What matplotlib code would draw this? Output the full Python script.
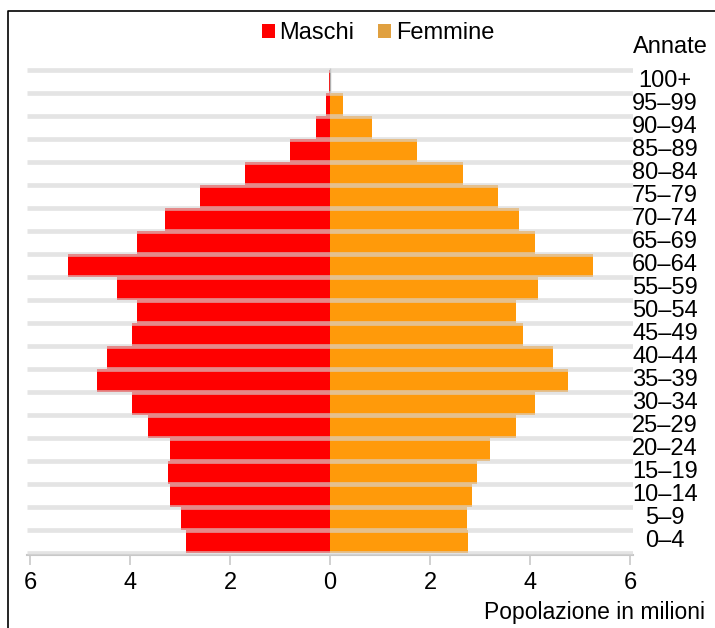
import numpy as np
import matplotlib
matplotlib.use("Agg")
import matplotlib.pyplot as plt
from matplotlib.patches import Patch
from matplotlib.lines import Line2D
import matplotlib.transforms as mtransforms

plt.rcParams['font.family'] = ['Liberation Sans Narrow', 'Liberation Sans', 'DejaVu Sans']

# age classes, bottom to top
ages = ["0–4", "5–9", "10–14", "15–19", "20–24", "25–29", "30–34", "35–39",
        "40–44", "45–49", "50–54", "55–59", "60–64", "65–69", "70–74",
        "75–79", "80–84", "85–89", "90–94", "95–99", "100+"]
# population in millions
maschi = [2.88, 2.98, 3.2, 3.24, 3.2, 3.64, 3.96, 4.66, 4.46, 3.96, 3.86,
          4.26, 5.24, 3.86, 3.3, 2.6, 1.7, 0.8, 0.28, 0.07, 0.02]
femmine = [2.76, 2.74, 2.84, 2.94, 3.2, 3.72, 4.1, 4.76, 4.46, 3.86, 3.72,
           4.16, 5.26, 4.1, 3.78, 3.36, 2.66, 1.74, 0.84, 0.26, 0.02]
xticks = [-6, -4, -2, 0, 2, 4, 6]

red = "#ff0000"
orange = "#ff9a0a"

W, H = 715, 628
fig = plt.figure(figsize=(W / 100, H / 100), dpi=100)
ax = fig.add_axes([27 / W, 1 - 555 / H, 606 / W, 487.3 / H])

y = np.arange(len(ages))
ax.barh(y, -np.array(maschi), height=1.0, color=red, linewidth=0)
ax.barh(y, femmine, height=1.0, color=orange, linewidth=0)

# light grey bands between rows
ax.hlines(np.arange(-0.5, len(ages)), -6.06, 6.06, color="#d6d6d6",
          alpha=0.65, lw=3.4, zorder=3)
# thin grey centre line at the top
ax.vlines(0, 19.5, 20.6, color="#b0b0b0", lw=1, zorder=2)

ax.set_xlim(-6.06, 6.06)
ax.set_ylim(-0.6, 20.6)
ax.set_yticks([])
ax.set_xticks(xticks)
ax.set_xticklabels([str(abs(t)) for t in xticks], fontsize=17)
ax.tick_params(axis='x', length=7, width=1.2, color="#c8c8c8", pad=5)
for s in ["top", "right", "left"]:
    ax.spines[s].set_visible(False)
ax.spines["bottom"].set_color("#c8c8c8")
ax.spines["bottom"].set_linewidth(1.5)

# age labels on the right
tr = mtransforms.blended_transform_factory(fig.transFigure, ax.transData)
for i, a in enumerate(ages):
    ax.text(665 / W, i, a, transform=tr, ha="center", va="center",
            fontsize=17, clip_on=False)

fig.text(670 / W, 1 - 47 / H, "Annate", ha="center", va="center", fontsize=17)
fig.text(705 / W, 1 - 613 / H, "Popolazione in milioni", ha="right",
         va="center", fontsize=16.5)

handles = [Patch(facecolor=red, label="Maschi"),
           Patch(facecolor="#e0a040", label="Femmine")]
fig.legend(handles=handles, loc="center", ncol=2, frameon=False,
           bbox_to_anchor=(378 / W, 1 - 33 / H), fontsize=17,
           handlelength=0.55, handleheight=0.55, handletextpad=0.2,
           columnspacing=1.0)

# frame around the figure (left and top edges)
fig.add_artist(Line2D([8 / W, 8 / W, 1.0], [0.0, 1 - 11 / H, 1 - 11 / H],
                      transform=fig.transFigure, color="black", lw=1.2))

fig.savefig("out.png", dpi=100)
